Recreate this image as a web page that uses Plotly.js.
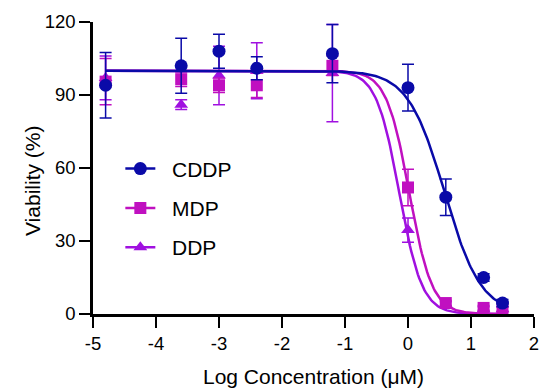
<!DOCTYPE html>
<html>
<head>
<meta charset="utf-8">
<script src="https://cdn.plot.ly/plotly-3.0.1.min.js"></script>
<style>html,body{margin:0;padding:0;background:#fff;}#chart{width:542px;height:392px;}</style>
</head>
<body>
<div id="chart"></div>
<script>
// Log concentration (µM)
var logConc = [-4.8, -3.6, -3.0, -2.4, -1.2, 0, 0.6, 1.2, 1.5];
// Viability (%) and error
var cddp    = [94, 102, 108, 101, 107, 93, 48, 15, 4.5];
var cddpErr = [13.5, 11.3, 7, 4.7, 12, 9.6, 7.5, 1.5, 1.5];
var mdp     = [95.5, 96.5, 94, 94, 102, 52, 4.5, 2.5, 2];
var mdpErr  = [9.5, 3, 3, 5, 4, 7.5, 1, 1, 1];
var ddp     = [97, 86, 98, 100, 99, 34.5, 4, 2, 2];
var ddpErr  = [9, 2, 12, 11.5, 20, 5, 1, 1, 1];
// Fitted 4-parameter logistic curves: [top, bottom, logIC50, hill]
var seriesNames = ['CDDP', 'MDP', 'DDP'];
var fitCDDP = [100, 0, 0.58, 1.5];
var fitMDP  = [100, 0, 0.02, 2.4];
var fitDDP  = [100, 0, -0.14, 2.4];
// Tick labels
var xTickVals = [-5, -4, -3, -2, -1, 0, 1, 2];
var xTickText = ['-5', '-4', '-3', '-2', '-1', '0', '1', '2'];
var yTickVals = [0, 30, 60, 90, 120];
var colors = ['#0a0aa8', '#c010c0', '#a010e0'];
var symbols = ['circle', 'square', 'triangle-up'];

function curve(p) {
  var xs = [], ys = [];
  for (var i = 0; i <= 300; i++) {
    var x = -4.8 + i * (1.5 + 4.8) / 300;
    xs.push(x);
    ys.push(p[1] + (p[0] - p[1]) / (1 + Math.pow(10, (x - p[2]) * p[3])));
  }
  return {x: xs, y: ys};
}

var sets = [
  {name: 'DDP', y: ddp, e: ddpErr, fit: fitDDP, c: colors[2], s: symbols[2]},
  {name: 'MDP', y: mdp, e: mdpErr, fit: fitMDP, c: colors[1], s: symbols[1]},
  {name: 'CDDP', y: cddp, e: cddpErr, fit: fitCDDP, c: colors[0], s: symbols[0]}
];

var traces = [];
sets.forEach(function (d) {
  var cv = curve(d.fit);
  traces.push({x: cv.x, y: cv.y, mode: 'lines', line: {color: d.c, width: 2.5}, showlegend: false, hoverinfo: 'skip', cliponaxis: false});
  traces.push({x: logConc, y: d.y, mode: 'markers', showlegend: false, cliponaxis: false,
    marker: {symbol: d.s, color: d.c, size: d.s === 'circle' ? 13 : 12},
    error_y: {type: 'data', array: d.e, visible: true, color: d.c, thickness: 1.5, width: 6}});
});
// legend entries
[0, 1, 2].forEach(function (i) {
  traces.push({x: [null], y: [null], name: '\u00a0\u00a0' + seriesNames[i], mode: 'lines+markers',
    legendgroup: 'g' + i,
    line: {color: colors[i], width: 2.5},
    marker: {symbol: symbols[i], color: colors[i], size: i === 0 ? 13 : 12}});
});

var layout = {
  width: 542, height: 392,
  margin: {l: 93, r: 8, t: 22, b: 78},
  paper_bgcolor: '#fff', plot_bgcolor: '#fff',
  font: {family: 'Liberation Sans, Arial, sans-serif', color: '#000', size: 18.5},
  showlegend: true,
  legend: {x: 0.062, y: 0.567, xanchor: 'left', yanchor: 'top', font: {size: 21},
    traceorder: 'grouped', tracegroupgap: 9, bgcolor: 'rgba(0,0,0,0)'},
  xaxis: {range: [-5, 2], tickvals: xTickVals, ticktext: xTickText, showgrid: false, zeroline: false,
    showline: true, linecolor: '#000', linewidth: 2.7, ticks: 'outside', ticklen: 11, tickwidth: 2.7,
    tickcolor: '#000', tickfont: {size: 18.5},
    title: {text: 'Log Concentration (μM)', font: {size: 21}, standoff: 17}},
  yaxis: {range: [0, 120], tickvals: yTickVals, showgrid: false, zeroline: false,
    showline: true, linecolor: '#000', linewidth: 2.7, ticks: 'outside', ticklen: 11, tickwidth: 2.7,
    tickcolor: '#000', tickfont: {size: 18.5}},
  annotations: [{text: 'Viability (%)', textangle: -90, xref: 'paper', yref: 'paper',
    x: -0.136, y: 0.4555, xanchor: 'center', yanchor: 'middle', showarrow: false, font: {size: 21}}]
};

Plotly.newPlot('chart', traces, layout, {displayModeBar: false, staticPlot: true});
</script>
</body>
</html>
